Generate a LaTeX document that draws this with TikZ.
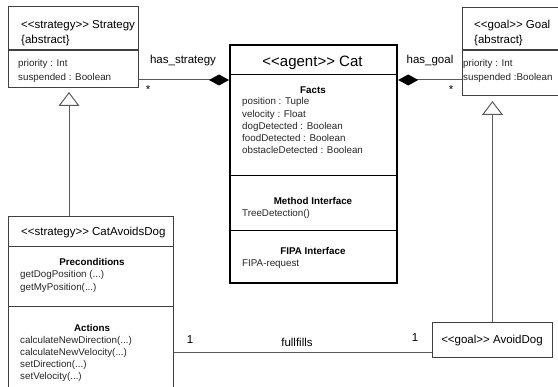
\documentclass[tikz,border=0pt]{standalone}
\usepackage{fontspec}
\setmainfont{Liberation Sans}[Ligatures=TeXOff]
\usetikzlibrary{arrows.meta,calc}
\definecolor{boxc}{HTML}{404040}
\definecolor{linec}{HTML}{5A5A5A}
\begin{document}
\begin{tikzpicture}[x=1pt,y=-1pt,
 box/.style={draw=boxc, line width=1pt, rectangle, inner sep=0pt, anchor=north west},
 conn/.style={draw=linec, line width=1pt},
 divider/.style={draw=boxc, line width=1.2pt},
 ttl/.style={font=\fontsize{11.5}{13}\selectfont, inner sep=0pt, anchor=base west},
 attr/.style={font=\fontsize{9.8}{12}\selectfont, inner sep=0pt, anchor=base west, text=black!85},
 hdr/.style={font=\bfseries\fontsize{9.8}{12}\selectfont, inner sep=0pt, anchor=base},
 lbl/.style={font=\fontsize{11.5}{13}\selectfont, inner sep=0pt, anchor=base},
 comp/.style={-{Diamond[length=20pt,width=11pt,color=black,fill=black]}},
 gen/.style={-{Triangle[open,length=14pt,width=21pt,fill=white]}},
 ]
\useasboundingbox (0,0) rectangle (558,387);
\fill[white] (0,0) rectangle (558,387);

% boxes
\node[box, minimum width=130pt, minimum height=81pt] (strat) at (8,6) {};
\node[box, draw=black, line width=2.2pt, minimum width=167pt, minimum height=238pt] (cat) at (229,44) {};
\node[box, minimum width=105pt, minimum height=88pt] (goal) at (462,7) {};
\node[box, minimum width=165pt, minimum height=185pt] (cad) at (8,216) {};
\node[box, minimum width=120pt, minimum height=35pt] (avd) at (432,322) {};

% dividers
\draw[divider] (strat.west |- 0,50) -- (strat.east |- 0,50);
\draw[divider] (goal.west |- 0,50) -- (goal.east |- 0,50);
\draw[black, line width=1pt] (cat.west |- 0,75) -- (cat.east |- 0,75);
\draw[black, line width=1pt] (cat.west |- 0,176) -- (cat.east |- 0,176);
\draw[black, line width=1pt] (cat.west |- 0,231) -- (cat.east |- 0,231);
\draw[divider, line width=1pt] (cad.west |- 0,247) -- (cad.east |- 0,247);
\draw[divider, line width=1pt] (cad.west |- 0,307) -- (cad.east |- 0,307);

% Strategy texts
\node[ttl] (s1) at (21,29) {<<strategy>> Strategy};
\node[ttl] (s2) at (21,44) {\{abstract\}};
\node[attr] (s3) at (18,67) {priority : Int};
\node[attr] (s4) at (18,81) {suspended : Boolean};

% Goal texts
\node[ttl] (g1) at (474,29) {<<goal>> Goal};
\node[ttl] (g2) at (474,44) {\{abstract\}};
\node[attr] (g3) at (463,67) {priority : Int};
\node[attr] (g4) at (463,81) {suspended :Boolean};

% Cat texts
\node[font=\fontsize{15}{17}\selectfont, inner sep=0pt, anchor=base] (c0) at (312.5,67) {<<agent>> Cat};
\node[hdr] (c1) at (313,94) {Facts};
\node[attr] (c2) at (242,105) {position : Tuple};
\node[attr] (c3) at (242,118) {velocity : Float};
\node[attr] (c4) at (242,130) {dogDetected : Boolean};
\node[attr] (c5) at (242,142) {foodDetected : Boolean};
\node[attr] (c6) at (242,154) {obstacleDetected : Boolean};
\node[hdr] (c7) at (313,205) {Method Interface};
\node[attr] (c8) at (242,217) {TreeDetection()};
\node[hdr] (c9) at (313,255) {FIPA Interface};
\node[attr] (c10) at (242,267) {FIPA-request};

% CatAvoidsDog texts
\node[ttl] (d0) at (21,236) {<<strategy>> CatAvoidsDog};
\node[hdr] (d1) at (92,266) {Preconditions};
\node[attr] (d2) at (20,278) {getDogPosition (...)};
\node[attr] (d3) at (20,291) {getMyPosition(...)};
\node[hdr] (d4) at (92,332) {Actions};
\node[attr] (d5) at (20,344) {calculateNewDirection(...)};
\node[attr] (d6) at (20,356) {calculateNewVelocity(...)};
\node[attr] (d7) at (20,368) {setDirection(...)};
\node[attr] (d8) at (20,380) {setVelocity(...)};

% AvoidDog text
\node[lbl] (a0) at (492,344) {<<goal>> AvoidDog};

% connectors
\coordinate (sy) at (0,80);
\coordinate (fy) at (0,353);
\coordinate (gx) at (69,0);
\draw[conn, comp] (strat.east |- sy) -- (cat.west |- sy);
\draw[conn, comp] (goal.west |- sy) -- (cat.east |- sy);
\draw[conn, gen, shorten >=4pt] (cad.north -| gx) -- (strat.south -| gx);
\draw[conn, gen, shorten >=5pt] (avd.north) -- (goal.south -| avd.north);
\draw[conn] (cad.east |- fy) -- (avd.west |- fy);

% labels
\node[lbl] (l1) at (183,64) {has\_strategy};
\node[lbl] (l2) at (430,64) {has\_goal};
\node[lbl] (l3) at (148,94) {*};
\node[lbl] (l4) at (451,94) {*};
\node[lbl] (l5) at (190,344) {1};
\node[lbl] (l6) at (415,342) {1};
\node[lbl] (l7) at (297,347) {fullfills};
\end{tikzpicture}
\end{document}
